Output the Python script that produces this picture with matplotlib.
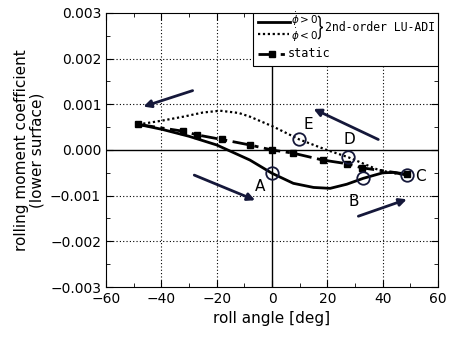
import matplotlib.pyplot as plt
from matplotlib.ticker import MultipleLocator, FuncFormatter
from matplotlib.path import Path
from matplotlib.patches import PathPatch

# roll angle [deg] and rolling moment coefficient for each case
static_x = [-48.3, -32, -27, -18.2, -8, 0, 7.7, 18.3, 27, 32.4, 48.7]
static_y = [0.00056, 0.00041, 0.00033, 0.00023, 0.00011, 0.0, -0.00007, -0.00022, -0.0003, -0.00039, -0.00053]

pos_x = [-48.3, -39.6, -30, -20, -8, 0, 7.7, 15, 21, 27, 33, 40, 44, 48.7]
pos_y = [0.00056, 0.00045, 0.0003, 0.00011, -0.00022, -0.00051, -0.00073, -0.00082, -0.00084, -0.00075, -0.00062, -0.0005, -0.00049, -0.00055]

neg_x = [-48.3, -40, -32, -25, -18.8, -12, -8, 0.5, 9.9, 19.8, 27.6, 37.8, 43, 48.7]
neg_y = [0.00056, 0.00064, 0.00073, 0.00082, 0.00086, 0.00081, 0.00073, 0.00051, 0.00023, 0.0, -0.00016, -0.00042, -0.0005, -0.00055]

# marked states A-E
pt_names = ['A', 'B', 'C', 'D', 'E']
pt_x = [0, 33, 48.7, 27.6, 9.9]
pt_y = [-0.00051, -0.00062, -0.00055, -0.00016, 0.00023]
lbl_x = [-4.3, 29.4, 53.5, 28, 13]
lbl_y = [-0.00079, -0.00113, -0.00057, 0.00022, 0.00056]

# direction arrows (start, end)
arrows = [((-28.7, 0.0013), (-46.5, 0.00095)),
          ((38.4, 0.00023), (15, 0.0009)),
          ((-28.1, -0.00055), (-6.1, -0.0011)),
          ((31.2, -0.00145), (48.7, -0.00108))]

fig = plt.figure(figsize=(4.53, 3.46), dpi=100)
ax = fig.add_axes([0.234, 0.1705, 0.733, 0.792])

ax.set_xlim(-60, 60)
ax.set_ylim(-0.003, 0.003)

# grid: dotted, zero lines solid
for gx in [-40, -20, 20, 40]:
    ax.axvline(gx, color='k', lw=0.8, ls=(0, (1, 2)), zorder=0)
for gy in [-0.002, -0.001, 0.001, 0.002]:
    ax.axhline(gy, color='k', lw=0.8, ls=(0, (1, 2)), zorder=0)
ax.axvline(0, color='k', lw=1.0, zorder=0)
ax.axhline(0, color='k', lw=1.0, zorder=0)

ax.plot(pos_x, pos_y, color='k', lw=2)
ax.plot(neg_x, neg_y, color='k', lw=1.6, ls=(0, (1, 1.2)))
ax.plot(static_x, static_y, color='k', lw=2, ls=(0, (6, 2, 1.5, 2)),
        marker='s', ms=5)

ax.plot(pt_x, pt_y, ls='none', marker='o', ms=9, mfc='none',
        mec='#15183a', mew=1.3)
for n, x, y in zip(pt_names, lbl_x, lbl_y):
    ax.text(x, y, n, fontsize=11, ha='center', va='center')

for (x0, y0), (x1, y1) in arrows:
    ax.annotate('', xy=(x1, y1), xytext=(x0, y0),
                arrowprops=dict(arrowstyle='-|>', color='#15183a', lw=2,
                                mutation_scale=11, shrinkA=0, shrinkB=0))

ax.xaxis.set_major_locator(MultipleLocator(20))
ax.xaxis.set_minor_locator(MultipleLocator(10))
ax.yaxis.set_major_locator(MultipleLocator(0.001))
ax.yaxis.set_minor_locator(MultipleLocator(0.0005))
ax.yaxis.set_major_formatter(FuncFormatter(
    lambda v, p: '0.000' if abs(v) < 1e-9 else f'{v:.3f}'.replace('-', '\u2212')))
ax.xaxis.set_major_formatter(FuncFormatter(
    lambda v, p: f'{v:.0f}'.replace('-', '\u2212')))
ax.tick_params(which='both', direction='in', top=True, right=True, labelsize=10)
ax.tick_params(which='major', length=5)
ax.tick_params(which='minor', length=3)

ax.set_xlabel('roll angle [deg]', fontsize=11)
ax.set_ylabel('rolling moment coefficient\n(lower surface)', fontsize=11,
              linespacing=1.0)

# legend box drawn by hand
tr = ax.transAxes
ax.add_patch(plt.Rectangle((0.443, 0.807), 0.557, 0.193, transform=tr,
                           facecolor='white', edgecolor='k', lw=0.8, zorder=5))
ax.plot([0.458, 0.554], [0.966, 0.966], transform=tr, color='k', lw=2, zorder=6)
ax.plot([0.458, 0.550], [0.924, 0.924], transform=tr, color='k', lw=1.6,
        ls=(0, (1, 1.2)), zorder=6)
ax.plot([0.458, 0.540], [0.851, 0.851], transform=tr, color='k', lw=2,
        ls=(0, (6, 2, 1.5, 2)), zorder=6)
ax.plot([0.499], [0.851], transform=tr, color='k', marker='s', ms=5, zorder=6)
ax.text(0.557, 0.946, r'$\dot{\phi}>0$' + '\n' + r'$\dot{\phi}<0$',
        transform=tr, fontsize=7.5, va='center', linespacing=0.9, zorder=6)

# curly brace joining the two unsteady entries
bx0, bx1, bxm = 0.638, 0.653, 0.645
by0, by1, bym = 0.988, 0.906, 0.947
brace = Path([(bx0, by0), (bxm, by0), (bxm, by0 - 0.012),
              (bxm, bym + 0.010),
              (bxm, bym), (bx1, bym),
              (bxm, bym), (bxm, bym - 0.010),
              (bxm, by1 + 0.012),
              (bxm, by1), (bx0, by1)],
             [Path.MOVETO, Path.CURVE3, Path.CURVE3,
              Path.LINETO,
              Path.CURVE3, Path.CURVE3,
              Path.CURVE3, Path.CURVE3,
              Path.LINETO,
              Path.CURVE3, Path.CURVE3])
ax.add_patch(PathPatch(brace, transform=tr, facecolor='none', edgecolor='k',
                       lw=1.0, zorder=6))

ax.text(0.660, 0.946, '2nd-order LU-ADI', transform=tr, fontsize=8.3,
        va='center', family='DejaVu Sans Mono', zorder=6)
ax.text(0.547, 0.851, 'static', transform=tr, fontsize=8.5, va='center',
        family='DejaVu Sans Mono', zorder=6)

fig.savefig('out.png', dpi=100)
